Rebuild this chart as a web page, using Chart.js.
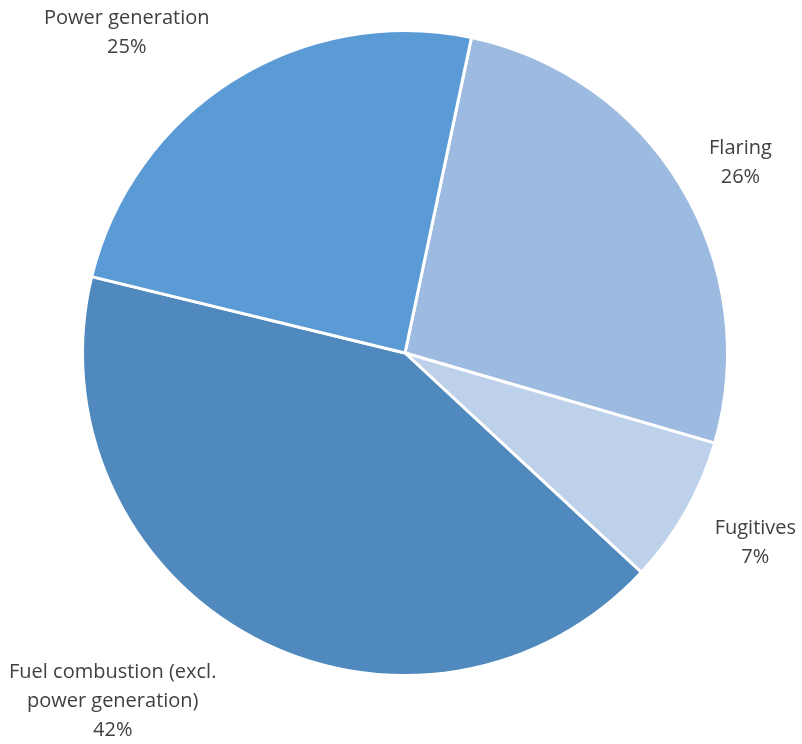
<!DOCTYPE html>
<html>
<head>
<meta charset="utf-8">
<script src="https://cdn.jsdelivr.net/npm/chart.js@4/dist/chart.umd.min.js"></script>
<style>
  html, body { margin: 0; padding: 0; background: #fff; }
  #wrap { width: 802px; height: 744px; }
</style>
</head>
<body>
<div id="wrap"><canvas id="pie"></canvas></div>
<script>
// categories (each one a list of label lines) and their shares in percent
const categories = [
  ["Flaring"],
  ["Fugitives"],
  ["Fuel combustion (excl.", "power generation)"],
  ["Power generation"]
];
const shares = [26.2, 7.4, 41.9, 24.5];
const colours = ["#9DBAE0", "#BDD1EB", "#4F89BD", "#5B9BD5"];

// where the labels sit: angle from top (degrees) and distance as a share of the radius
const labelAngle = [60.5, 118.4, 220, 319];
const labelDist = [1.195, 1.235, 1.41, 1.315];

// draws "name / xx%" outside each slice, Excel style
const outsideLabels = {
  id: "outsideLabels",
  afterDatasetsDraw(chart) {
    const ctx = chart.ctx;
    const arcs = chart.getDatasetMeta(0).data;
    ctx.save();
    ctx.font = "20px 'Open Sans'";
    ctx.fillStyle = "#404040";
    ctx.textAlign = "center";
    ctx.textBaseline = "middle";
    const lineH = 29;
    arcs.forEach((arc, i) => {
      const a = labelAngle[i] * Math.PI / 180;
      const r = arc.outerRadius * labelDist[i];
      const cx = arc.x + Math.sin(a) * r;
      const cy = arc.y - Math.cos(a) * r;
      const lines = categories[i].concat([Math.round(shares[i]) + "%"]);
      const top = cy - (lines.length - 1) * lineH / 2;
      lines.forEach((t, j) => ctx.fillText(t, cx, top + j * lineH));
    });
    ctx.restore();
  }
};

new Chart(document.getElementById("pie"), {
  type: "pie",
  data: {
    labels: categories.map(c => c.join(" ")),
    datasets: [{
      data: shares,
      backgroundColor: colours,
      borderColor: "#ffffff",
      borderWidth: 3
    }]
  },
  options: {
    responsive: true,
    maintainAspectRatio: false,
    animation: false,
    rotation: 11.9,
    layout: { padding: { left: 81, right: 73, top: 29, bottom: 67 } },
    plugins: {
      legend: { display: false },
      tooltip: { enabled: false }
    }
  },
  plugins: [outsideLabels]
});
</script>
</body>
</html>
